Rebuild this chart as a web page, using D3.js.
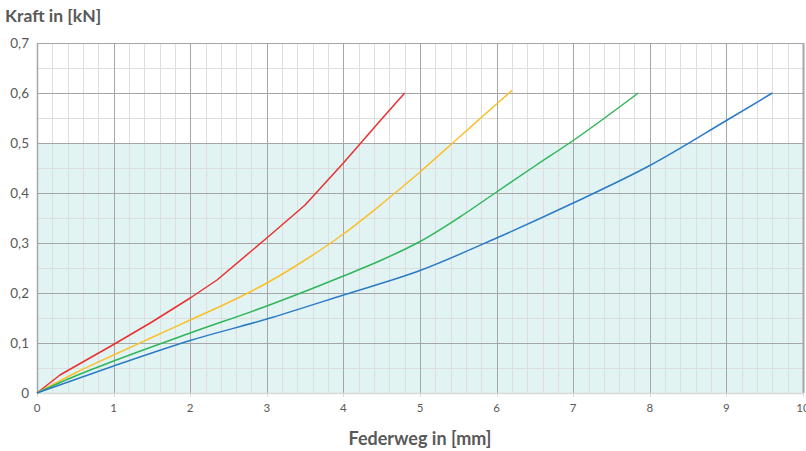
<!DOCTYPE html>
<html><head><meta charset="utf-8">
<script src="https://cdn.jsdelivr.net/npm/d3@7"></script>
<style>body{margin:0;background:#fff}svg{display:block}</style>
</head><body>
<svg id="c" width="806" height="451"></svg>
<script>
const xTicks = [0,1,2,3,4,5,6,7,8,9,10];
const yTicks = [0,0.1,0.2,0.3,0.4,0.5,0.6,0.7];
const yTickLabels = ["0","0,1","0,2","0,3","0,4","0,5","0,6","0,7"];
const shadedMax = 0.5;
const redX = [0,0.3,1,1.5,2,2.35,3,3.5,4,4.5,4.8];
const redY = [0,0.036,0.097,0.142,0.19,0.226,0.31,0.376,0.46,0.548,0.6];
const yellowX = [0,0.5,1,1.5,2,2.5,3,3.5,4,4.5,5,5.5,6,6.2];
const yellowY = [0,0.04,0.076,0.111,0.146,0.181,0.22,0.266,0.318,0.378,0.442,0.51,0.578,0.605];
const greenX = [0,0.5,1,2,3,4,4.5,5,5.5,6,6.5,7,7.85];
const greenY = [0,0.034,0.064,0.12,0.174,0.234,0.266,0.303,0.35,0.402,0.454,0.505,0.6];
const blueX = [0,1,2,3,4,5,6,7,8,9,9.6];
const blueY = [0,0.054,0.105,0.148,0.196,0.245,0.31,0.38,0.455,0.545,0.6];
const seriesColors = ["#e8302f","#fbbf2a","#2fb55a","#2a7bc6"];
const xTitle = "Federweg in [mm]";
const yTitle = "Kraft in [kN]";

const svg = d3.select("#c");
const L = 37, R = 803, T = 43, B = 393;
const x = d3.scaleLinear().domain([0,10]).range([L,R]);
const y = d3.scaleLinear().domain([0,0.7]).range([B,T]);

svg.append("rect").attr("x",x(0)).attr("y",y(shadedMax)).attr("width",x(10)-x(0)).attr("height",y(0)-y(shadedMax)).attr("fill","#e2f3f3");

const g = svg.append("g");
d3.range(0,10.001,0.2).forEach(v=>{
  g.append("line").attr("x1",Math.round(x(v))+0.5).attr("x2",Math.round(x(v))+0.5).attr("y1",T).attr("y2",B).attr("stroke","#dedede").attr("stroke-width",1);
});
d3.range(0,0.7001,0.05).forEach(v=>{
  g.append("line").attr("x1",L).attr("x2",R).attr("y1",Math.round(y(v))+0.5).attr("y2",Math.round(y(v))+0.5).attr("stroke","#dedede").attr("stroke-width",1);
});
xTicks.forEach(v=>{
  g.append("line").attr("x1",Math.round(x(v))+0.5).attr("x2",Math.round(x(v))+0.5).attr("y1",T).attr("y2",B).attr("stroke","#a6a6a6").attr("stroke-width",1);
});
yTicks.forEach(v=>{
  if(v===0) return;
  g.append("line").attr("x1",L).attr("x2",R).attr("y1",Math.round(y(v))+0.5).attr("y2",Math.round(y(v))+0.5).attr("stroke","#a6a6a6").attr("stroke-width",1);
});
svg.append("line").attr("x1",R+0.5).attr("x2",R+0.5).attr("y1",T).attr("y2",B).attr("stroke","#a6a6a6").attr("stroke-width",2);
svg.append("line").attr("x1",L+0.5).attr("x2",L+0.5).attr("y1",T).attr("y2",B).attr("stroke","#a6a6a6").attr("stroke-width",1.5);
svg.append("line").attr("x1",L).attr("x2",R+1).attr("y1",B+0.5).attr("y2",B+0.5).attr("stroke","#d9d9d9").attr("stroke-width",1.5);
xTicks.forEach(v=>{
  svg.append("line").attr("x1",Math.round(x(v))+0.5).attr("x2",Math.round(x(v))+0.5).attr("y1",B).attr("y2",B+4).attr("stroke","#d9d9d9");
});

const series = [[redX,redY],[yellowX,yellowY],[greenX,greenY],[blueX,blueY]];
series.forEach((s,i)=>{
  const pts = s[0].map((v,j)=>[v,s[1][j]]);
  const line = d3.line().x(d=>x(d[0])).y(d=>y(d[1])).curve(i===0 ? d3.curveLinear : d3.curveMonotoneX);
  svg.append("path").attr("d",line(pts)).attr("fill","none").attr("stroke",seriesColors[i]).attr("stroke-width",1.5).attr("stroke-linejoin","round");
});

const font = "Lato, 'Open Sans', sans-serif";
yTicks.forEach((v,i)=>{
  svg.append("text").attr("x",29).attr("y",y(v)+5).attr("text-anchor","end").attr("font-family",font).attr("font-size",13.5).attr("fill","#595959").text(yTickLabels[i]);
});
xTicks.forEach(v=>{
  svg.append("text").attr("x",x(v)).attr("y",412).attr("text-anchor","middle").attr("font-family",font).attr("font-size",11.5).attr("fill","#595959").text(String(v));
});
svg.append("text").attr("x",5).attr("y",22).attr("font-family",font).attr("font-weight","bold").attr("font-size",17.5).attr("fill","#595959").text(yTitle);
svg.append("text").attr("x",420).attr("y",445).attr("text-anchor","middle").attr("font-family",font).attr("font-weight","bold").attr("font-size",18).attr("fill","#595959").text(xTitle);
</script>
</body></html>
